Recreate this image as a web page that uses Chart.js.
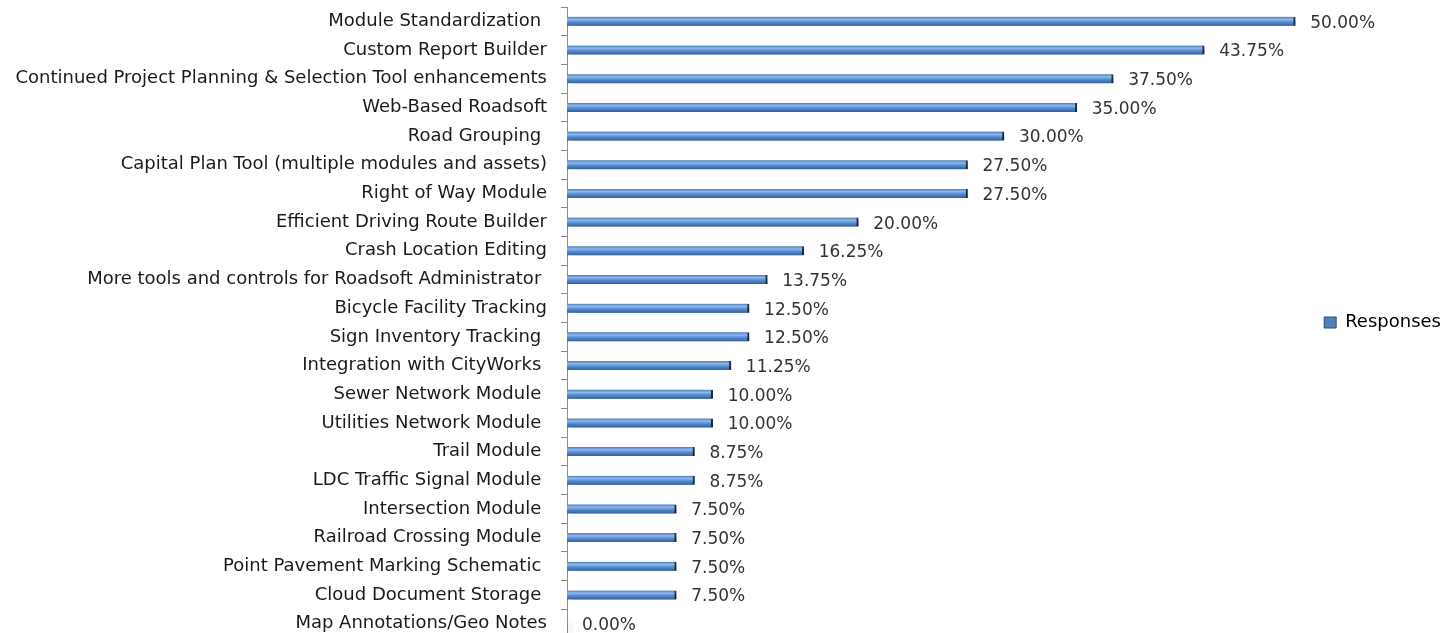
<!DOCTYPE html>
<html>
<head>
<meta charset="utf-8">
<script src="https://cdn.jsdelivr.net/npm/chart.js@4"></script>
<style>
  html, body { margin: 0; padding: 0; background: #fff; overflow: hidden; }
  #wrap { position: absolute; left: 0; top: 0; width: 1452px; height: 640px; }
</style>
</head>
<body>
<div id="wrap"><canvas id="chart"></canvas></div>
<script>
// categories, top to bottom (trailing spaces kept as in the source sheet)
const features = [
    'Module Standardization ',
    'Custom Report Builder',
    'Continued Project Planning & Selection Tool enhancements',
    'Web-Based Roadsoft',
    'Road Grouping ',
    'Capital Plan Tool (multiple modules and assets)',
    'Right of Way Module',
    'Efficient Driving Route Builder',
    'Crash Location Editing',
    'More tools and controls for Roadsoft Administrator ',
    'Bicycle Facility Tracking',
    'Sign Inventory Tracking ',
    'Integration with CityWorks ',
    'Sewer Network Module ',
    'Utilities Network Module ',
    'Trail Module ',
    'LDC Traffic Signal Module ',
    'Intersection Module ',
    'Railroad Crossing Module ',
    'Point Pavement Marking Schematic ',
    'Cloud Document Storage ',
    'Map Annotations/Geo Notes'
];

// share of responses, percent
const responses = [
    50.00, 43.75, 37.50, 35.00, 30.00, 27.50, 27.50, 20.00, 16.25, 13.75, 12.50,
    12.50, 11.25, 10.00, 10.00, 8.75, 8.75, 7.50, 7.50, 7.50, 7.50, 0.00
];

const seriesName = 'Responses';

const FONT = "'DejaVu Sans', sans-serif";

// soft drop shadow under the bars
const barShadow = {
    id: 'barShadow',
    beforeDatasetDraw(chart) {
        const c = chart.ctx;
        c.save();
        c.shadowColor = 'rgba(0,0,0,0.45)';
        c.shadowBlur = 5;
        c.shadowOffsetX = 3;
        c.shadowOffsetY = 4;
    },
    afterDatasetDraw(chart) {
        chart.ctx.restore();
    }
};

// value labels right of each bar
const valueLabels = {
    id: 'valueLabels',
    afterDatasetsDraw(chart) {
        const c = chart.ctx;
        const meta = chart.getDatasetMeta(0);
        c.save();
        c.font = '17px ' + FONT;
        c.fillStyle = '#333333';
        c.textAlign = 'left';
        c.textBaseline = 'middle';
        meta.data.forEach((bar, i) => {
            c.fillText(responses[i].toFixed(2) + '%', bar.x + 15, bar.y + 2);
        });
        c.restore();
    }
};

const ctx = document.getElementById('chart').getContext('2d');

// glossy vertical gradient per bar, centred on the category pixel
function barFill(context) {
    const yScale = context.chart.scales.y;
    if (!yScale || context.dataIndex === undefined) return '#4f81bd';
    const y = yScale.getPixelForValue(context.dataIndex);
    if (!Number.isFinite(y)) return '#4f81bd';
    const g = context.chart.ctx.createLinearGradient(0, y - 4.5, 0, y + 4.5);
    g.addColorStop(0, '#4a7ebf');
    g.addColorStop(0.3, '#8fb8ec');
    g.addColorStop(0.55, '#5b8fd3');
    g.addColorStop(1, '#33609a');
    return g;
}

new Chart(ctx, {
    type: 'bar',
    data: {
        labels: features,
        datasets: [{
            label: seriesName,
            data: responses,
            backgroundColor: barFill,
            borderColor: '#1f3550',
            borderWidth: { top: 0, bottom: 0, left: 0, right: 2 },
            borderSkipped: false,
            barThickness: 9
        }]
    },
    options: {
        indexAxis: 'y',
        responsive: true,
        maintainAspectRatio: false,
        animation: false,
        layout: {
            padding: { top: 7, right: 1, bottom: 2, left: 0 }
        },
        plugins: {
            legend: {
                display: true,
                position: 'right',
                labels: {
                    color: '#1a1a1a',
                    font: { family: FONT, size: 18 },
                    boxWidth: 12,
                    boxHeight: 11,
                    padding: 10,
                    generateLabels(chart) {
                        return [{
                            text: seriesName,
                            fillStyle: '#4f81bd',
                            strokeStyle: '#2f4f78',
                            lineWidth: 1,
                            datasetIndex: 0
                        }];
                    }
                }
            },
            tooltip: { enabled: false }
        },
        scales: {
            x: {
                display: false,
                min: 0,
                max: 51.3
            },
            y: {
                afterFit(scale) {
                    scale.width = 567;
                    scale.paddingTop = 0;
                    scale.paddingBottom = 0;
                },
                grid: {
                    offset: true,
                    drawOnChartArea: false,
                    drawTicks: true,
                    tickLength: 6,
                    color: '#8c8c8c'
                },
                border: { display: true, color: '#8c8c8c', width: 1 },
                ticks: {
                    color: '#1a1a1a',
                    font: { family: FONT, size: 18 },
                    padding: 14,
                    autoSkip: false
                }
            }
        }
    },
    plugins: [barShadow, valueLabels]
});
</script>
</body>
</html>
